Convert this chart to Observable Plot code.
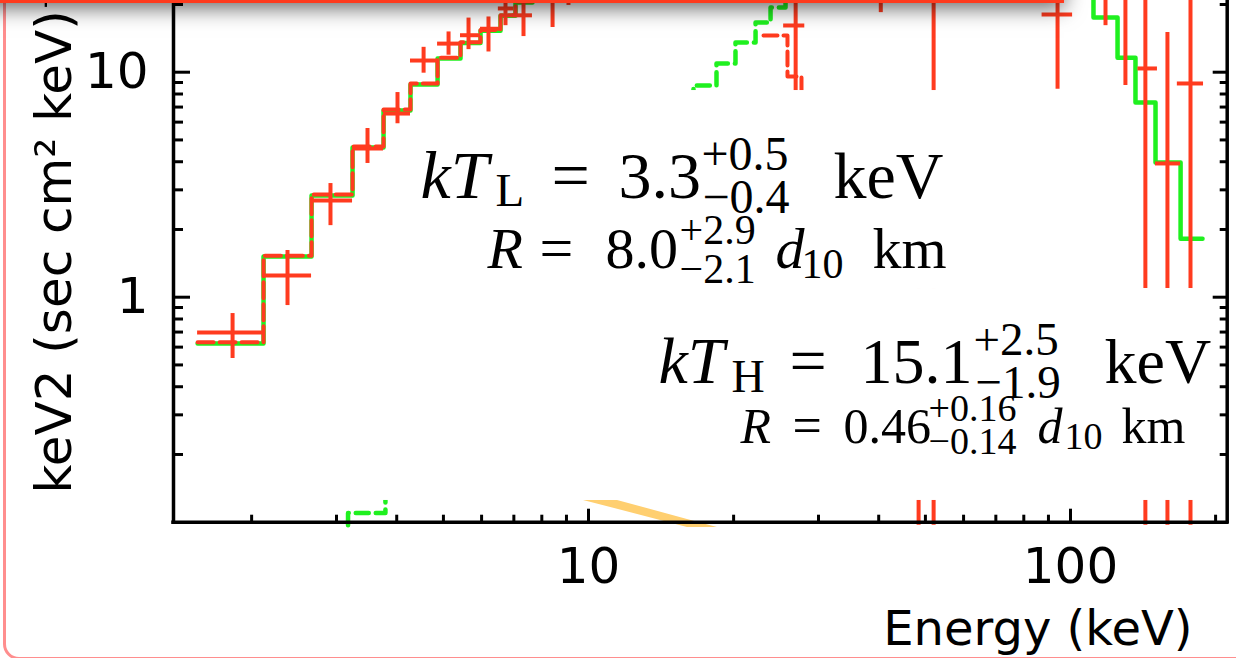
<!DOCTYPE html>
<html><head><meta charset="utf-8">
<script src="https://cdn.jsdelivr.net/npm/d3@7"></script>
<script src="https://cdn.jsdelivr.net/npm/@observablehq/plot@0.6"></script>
<style>
html,body{margin:0;padding:0;background:#fff;overflow:hidden;}
#wrap{position:relative;width:1236px;height:658px;overflow:hidden;background:#fff;}
#chart{position:absolute;left:0;top:0;}
#pink{position:absolute;left:3px;top:-40px;width:2000px;height:700px;border:3px solid #ff8e8e;border-radius:16px;box-sizing:border-box;pointer-events:none;}
#banner{position:absolute;left:-20px;top:-60px;width:1084px;height:63px;background:#ff3b1e;box-shadow:0 5px 20px rgba(0,0,0,0.6);}
</style></head>
<body><div id="wrap"><div id="chart"></div><div id="pink"></div><div id="banner"></div></div>
<script>
// ---- scales / ticks ----
const xDomain = [1.377, 211.4];
const yDomain = [0.1, 20.83];
const xMajor = [10, 100];
const xTickLabels = ["10", "100"];
const xMinor = [2, 3, 4, 5, 6, 7, 8, 9, 20, 30, 40, 50, 60, 70, 80, 90, 200];
const yMajor = [1, 10];
const yTickLabels = ["1", "10"];
const yMinor = [0.2, 0.3, 0.4, 0.5, 0.6, 0.7, 0.8, 0.9, 2, 3, 4, 5, 6, 7, 8, 9, 20];
const xLabel = "Energy (keV)";
const yLabel = "keV2 (sec cm\u00b2 keV)\u207b\u00b9";

// ---- low-energy data points (red crosses) ----
const lowE   = [1.826, 2.374, 2.915, 3.479, 4.015, 4.548, 5.124, 5.637, 6.201, 6.726, 7.330, 8.422, 9.087];
const lowF   = [0.697, 1.249, 2.69, 4.58, 6.55, 11.27, 13.4, 14.6, 15.6, 19.2, 17.9, 23.1, 25];
const lowLo  = [0.534, 0.918, 2.08, 3.93, 5.9, 9.9, 11.9, 12.6, 12.3, 16.1, 14.4, 15.8, 19.8];
const lowHi  = [0.846, 1.613, 3.20, 5.62, 8.12, 12.9, 15.1, 17.4, 17.6, 23, 22, 30, 32];
const lowElo = [1.545, 2.117, 2.663, 3.239, 3.756, 4.272, 4.862, 5.425, 5.969, 6.50, 6.96, 7.87, 8.75];
const lowEhi = [2.117, 2.663, 3.239, 3.756, 4.272, 4.862, 5.425, 5.969, 6.568, 7.00, 7.65, 9.0, 9.5];

// ---- mid/high-energy data points (red crosses) ----
const highE   = [26.9, 40.4, 48.4, 52.0, 94.0, 118.2, 130.0, 143.0, 158.9, 177.4];
const highF   = [16.13, 30, 0.5, 3, 18.05, 25, 24, 10.39, 3.93, 8.91];
const highLo  = [3, 18.4, 0.097, 0.097, 8.4, 16.1, 8.73, 0.097, 0.097, 0.097];
const highHi  = [30, 45, 1.5, 40, 30, 35, 35, 40, 15.0, 40];
const highElo = [25.4, 36, 46, 49.5, 87.3, 111.6, 125.2, 138.0, 150.1, 166.6];
const highEhi = [28.1, 45, 51, 54.5, 101, 125.2, 136.4, 151.5, 169.2, 188.8];

// ---- total model (green histogram) ----
const modelLoEdges  = [1.545, 2.117, 2.663, 3.239, 3.756, 4.272, 4.862, 5.425, 5.969, 6.568, 7.055, 7.652, 8.30];
const modelLoValues = [0.622, 1.517, 2.83, 4.63, 6.76, 8.81, 11.5, 13.5, 15.3, 17.8, 20.4, 24];
const modelHiEdges  = [101.0, 111.6, 125.2, 136.4, 150.1, 169.2, 187.9];
const modelHiValues = [28, 17.5, 11.6, 7.33, 3.97, 1.82];
// red model histogram (dashed, low energies)
const redModelValues = [0.63, 1.53, 2.86, 4.68, 6.83, 8.9, 11.6, 13.6, 15.4, 17.9, 20.6, 24];

// ---- hot component (green dashed) ----
const hotLoE = [3.17, 3.17, 3.79];
const hotLoF = [0.097, 0.110, 0.16];
const hotHiE = [16.51, 16.51, 18.43, 20.18, 22.21, 23.86, 25.63, 27.0];
const hotHiF = [6.0, 8.73, 10.93, 13.55, 16.63, 19.39, 23, 23];
// red dashed component
const redCompE = [23.07, 25.87, 27.66];
const redCompF = [14.56, 9.57, 5.0];

// ---- orange band ----
const bandE  = [9.764, 11.487, 16.04, 18.51];
const bandLo = [0.1249, 0.1141, 0.0947, 0.0947];
const bandHi = [0.1249, 0.1249, 0.1029, 0.0947];

// ---- white label panels (data coords) ----
const panelE1 = [4.356, 2.527];
const panelE2 = [132.6, 200];
const panelF1 = [1.093, 0.1249];
const panelF2 = [8.29, 1.093];

// ---- equation labels ----
const eqE = [4.482, 6.172, 13.97, 20.68];
const eqF = [2.746, 1.355, 0.4135, 0.2238];
const eqPieces = [
  {eq:0, t:"kT", size:68, it:true, dx:0, dy:0},
  {eq:0, t:"L", size:47, it:false, dx:75, dy:8},
  {eq:0, t:"=", size:68, it:false, dx:131, dy:0},
  {eq:0, t:"3.3", size:66, it:false, dx:198, dy:0},
  {eq:0, t:"+0.5", size:48, it:false, dx:281, dy:-28},
  {eq:0, t:"\u22120.4", size:48, it:false, dx:282, dy:15},
  {eq:0, t:"keV", size:66, it:false, dx:413, dy:0},
  {eq:1, t:"R", size:58, it:true, dx:0, dy:0},
  {eq:1, t:"=", size:60, it:false, dx:52, dy:0},
  {eq:1, t:"8.0", size:58, it:false, dx:118, dy:0},
  {eq:1, t:"+2.9", size:42, it:false, dx:192, dy:-24},
  {eq:1, t:"\u22122.1", size:42, it:false, dx:192, dy:15},
  {eq:1, t:"d", size:58, it:true, dx:288, dy:0},
  {eq:1, t:"10", size:42, it:false, dx:314, dy:10},
  {eq:1, t:"km", size:58, it:false, dx:385, dy:0},
  {eq:2, t:"kT", size:66, it:true, dx:0, dy:0},
  {eq:2, t:"H", size:46, it:false, dx:73, dy:9},
  {eq:2, t:"=", size:66, it:false, dx:131, dy:0},
  {eq:2, t:"15.1", size:64, it:false, dx:202, dy:0},
  {eq:2, t:"+2.5", size:47, it:false, dx:315, dy:-28},
  {eq:2, t:"\u22121.9", size:47, it:false, dx:317, dy:15},
  {eq:2, t:"keV", size:64, it:false, dx:446, dy:0},
  {eq:3, t:"R", size:50, it:true, dx:0, dy:0},
  {eq:3, t:"=", size:52, it:false, dx:52, dy:0},
  {eq:3, t:"0.46", size:50, it:false, dx:103, dy:0},
  {eq:3, t:"+0.16", size:38, it:false, dx:188, dy:-22},
  {eq:3, t:"\u22120.14", size:38, it:false, dx:188, dy:11},
  {eq:3, t:"d", size:50, it:true, dx:297, dy:0},
  {eq:3, t:"10", size:38, it:false, dx:324, dy:6},
  {eq:3, t:"km", size:50, it:false, dx:381, dy:0}
];

// ---- build tables ----
const RED = "#ff3b1f", GREEN = "#1ff01f";
const pts = (E, F, lo, hi, elo, ehi) => E.map((e, i) => ({e, f: F[i], lo: lo[i], hi: hi[i], elo: elo[i], ehi: ehi[i]}));
const crosses = pts(lowE, lowF, lowLo, lowHi, lowElo, lowEhi).concat(pts(highE, highF, highLo, highHi, highElo, highEhi));
function steps(edges, values, s) {
  const out = values.map((v, i) => ({e: edges[i], f: v, s}));
  out.push({e: edges[values.length], f: values[values.length - 1], s});
  return out;
}
const greenModel = steps(modelLoEdges, modelLoValues, "lo").concat(steps(modelHiEdges, modelHiValues, "hi"));
const redModel = steps(modelLoEdges, redModelValues, "lo");
const hot = hotLoE.map((e, i) => ({e, f: hotLoF[i], s: "a"})).concat(hotHiE.map((e, i) => ({e, f: hotHiF[i], s: "b"})));
const redComp = redCompE.map((e, i) => ({e, f: redCompF[i]}));
const band = bandE.map((e, i) => ({e, lo: bandLo[i], hi: bandHi[i]}));
const panels = panelE1.map((e, i) => ({e1: e, e2: panelE2[i], f1: panelF1[i], f2: panelF2[i]}));
const xTickText = new Map(xMajor.map((v, i) => [v, xTickLabels[i]]));
const yTickText = new Map(yMajor.map((v, i) => [v, yTickLabels[i]]));

const eqMarks = eqPieces.map(p => Plot.text([p], {
  x: d => eqE[d.eq], y: d => eqF[d.eq], text: d => d.t,
  dx: p.dx, dy: p.dy, fontSize: p.size, fontStyle: p.it ? "italic" : "normal",
  fontFamily: "Liberation Serif", textAnchor: "start", lineAnchor: "bottom", fill: "black"
}));

const chart = Plot.plot({
  width: 1236, height: 658,
  marginLeft: 173, marginRight: 9.3, marginTop: 0, marginBottom: 136.3,
  x: {type: "log", domain: xDomain},
  y: {type: "log", domain: yDomain},
  style: {background: "transparent", fontFamily: "DejaVu Sans", overflow: "hidden"},
  marks: [
    Plot.areaY(band, {x: "e", y1: "lo", y2: "hi", fill: "#ffcf70", curve: "linear"}),
    Plot.line(greenModel, {x: "e", y: "f", z: "s", curve: "step-after", stroke: GREEN, strokeWidth: 4.5}),
    Plot.line(redModel, {x: "e", y: "f", z: "s", curve: "step-after", stroke: RED, strokeWidth: 4, strokeDasharray: "16,6"}),
    Plot.line(hot, {x: "e", y: "f", z: "s", curve: "step-after", stroke: GREEN, strokeWidth: 4.5, strokeDasharray: "13,7"}),
    Plot.line(redComp, {x: "e", y: "f", curve: "step-after", stroke: RED, strokeWidth: 4, strokeDasharray: "14,6"}),
    Plot.ruleX(crosses, {x: "e", y1: "lo", y2: "hi", stroke: RED, strokeWidth: 4}),
    Plot.ruleY(crosses, {y: "f", x1: "elo", x2: "ehi", stroke: RED, strokeWidth: 4}),
    Plot.rect(panels, {x1: "e1", x2: "e2", y1: "f1", y2: "f2", fill: "white"}),
    ...eqMarks,
    Plot.axisY(yMajor, {anchor: "left", tickSize: 0, tickPadding: 25, tickFormat: d => yTickText.get(d), fontSize: 50, label: null}),
    Plot.axisY(yMajor, {anchor: "left", tickSize: -17, strokeWidth: 3, fill: "none", label: null}),
    Plot.axisY(yMinor, {anchor: "left", tickSize: -10, strokeWidth: 3, fill: "none", label: null}),
    Plot.axisY(yMajor, {anchor: "right", tickSize: -15, strokeWidth: 3, fill: "none", label: null}),
    Plot.axisY(yMinor, {anchor: "right", tickSize: -8, strokeWidth: 3, fill: "none", label: null}),
    Plot.axisX(xMajor, {anchor: "bottom", tickSize: 0, tickPadding: 25, tickFormat: d => xTickText.get(d), fontSize: 50, label: null}),
    Plot.axisX(xMajor, {anchor: "bottom", tickSize: -13, strokeWidth: 3, fill: "none", label: null}),
    Plot.axisX(xMinor, {anchor: "bottom", tickSize: -7, strokeWidth: 3, fill: "none", label: null}),
    Plot.ruleX([xDomain[0], xDomain[1]], {stroke: "black", strokeWidth: 3.5, strokeLinecap: "square"}),
    Plot.ruleY([yDomain[0]], {stroke: "black", strokeWidth: 3.5, strokeLinecap: "square"}),
    Plot.text([yLabel], {frameAnchor: "bottom-left", text: d => d, rotate: -90, textAnchor: "start", lineAnchor: "bottom", dx: -103, dy: -28.7, fontSize: 50, fill: "black"}),
    Plot.text([xLabel], {frameAnchor: "bottom-right", text: d => d, textAnchor: "end", lineAnchor: "bottom", dx: -34.7, dy: 123, fontSize: 48, fill: "black"})
  ]
});
document.getElementById("chart").appendChild(chart);
</script></body></html>
